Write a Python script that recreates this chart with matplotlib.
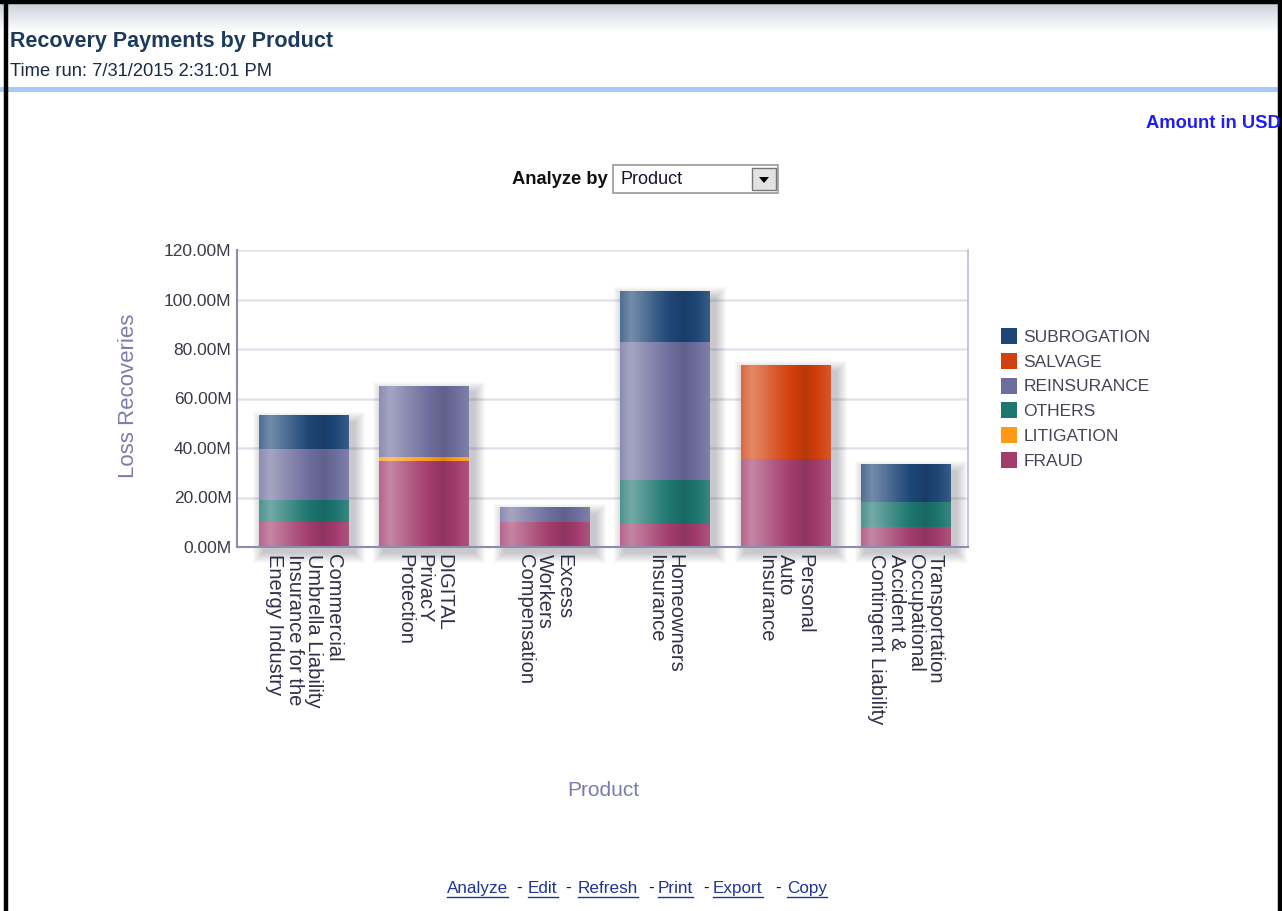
import numpy as np
import matplotlib
matplotlib.use("Agg")
import matplotlib.pyplot as plt
from matplotlib import font_manager
from matplotlib.patches import Rectangle, Polygon
from matplotlib.lines import Line2D
from matplotlib.ticker import FuncFormatter
from matplotlib.colors import to_rgb

### data (values in millions USD) ###
products = ["Commercial\nUmbrella Liability\nInsurance for the\nEnergy Industry",
            "DIGITAL\nPrivacY\nProtection",
            "Excess\nWorkers\nCompensation",
            "Homeowners\nInsurance",
            "Personal\nAuto\nInsurance",
            "Transportation\nOccupational\nAccident &\nContingent Liability"]
fraud = [10.1, 34.7, 10.1, 9.4, 35.5, 7.9]
litigation = [0, 1.6, 0, 0, 0, 0]
others = [9.0, 0, 0, 17.5, 0, 10.4]
reinsurance = [20.3, 28.6, 5.8, 56.1, 0, 0]
salvage = [0, 0, 0, 0, 37.9, 0]
subrogation = [13.5, 0, 0, 20.6, 0, 15.0]

series_names = ["FRAUD", "LITIGATION", "OTHERS", "REINSURANCE", "SALVAGE", "SUBROGATION"]
series_vals = [fraud, litigation, others, reinsurance, salvage, subrogation]
series_cols = ["#a23c6c", "#ff9a14", "#1d7670", "#6e6e9e", "#d2400c", "#1e4676"]

plt.rcParams['font.family'] = ['Liberation Sans', 'DejaVu Sans']
names = {f.name for f in font_manager.fontManager.ttflist}
if 'Liberation Sans Narrow' in names:
    ytick_font, ytick_size = 'Liberation Sans Narrow', 15
else:
    ytick_font, ytick_size = 'Liberation Sans', 12.5

W, H = 1282, 911
fig = plt.figure(figsize=(W / 100, H / 100), dpi=100)
fig.patch.set_facecolor("white")

def fx(px):
    return px / W

def fy(py):
    return 1 - py / H

# header band
hdr = fig.add_axes([0, fy(32), 1, fy(3) - fy(32)])
grad = np.linspace(0, 1, 50)[:, None]
hdr.imshow(np.dstack([0.80 + 0.20 * grad, 0.82 + 0.18 * grad, 0.85 + 0.15 * grad]),
           aspect='auto', extent=(0, 1, 0, 1), origin='upper')
hdr.axis('off')

fig.text(fx(10), fy(41), "Recovery Payments by Product", fontsize=15.5, fontweight='bold',
         color='#1c3a5c', ha='left', va='center')
fig.text(fx(10), fy(71), "Time run: 7/31/2015 2:31:01 PM", fontsize=13.2,
         color='#1c2a44', ha='left', va='center')
fig.add_artist(Rectangle((0, fy(92)), 1, fy(87) - fy(92), transform=fig.transFigure,
                         facecolor='#a3ccf7', edgecolor='none'))
fig.text(fx(1281), fy(124), "Amount in USD", fontsize=13.2, fontweight='bold',
         color='#1e1ef0', ha='right', va='center')

# analyze by selector
fig.text(fx(608), fy(179), "Analyze by", fontsize=13.2, fontweight='bold',
         color='#111111', ha='right', va='center')
fig.add_artist(Rectangle((fx(613), fy(193)), fx(778) - fx(613), fy(165) - fy(193),
                         transform=fig.transFigure, facecolor='white', edgecolor='#9a9a9a', lw=1.2))
fig.add_artist(Rectangle((fx(752), fy(190)), fx(776) - fx(752), fy(168) - fy(190),
                         transform=fig.transFigure, facecolor='#e2e2e2', edgecolor='#777777', lw=1.0))
fig.add_artist(Polygon([(fx(759), fy(177)), (fx(769), fy(177)), (fx(764), fy(183))],
                       closed=True, transform=fig.transFigure, facecolor='black', edgecolor='none'))
fig.text(fx(620), fy(179), "Product", fontsize=13, color='#141432', ha='left', va='center')

# chart
ax = fig.add_axes([fx(237), fy(547), fx(968) - fx(237), fy(250) - fy(547)])
x = np.arange(len(products))
width = 0.747
pxx = 6.07 / 731.0
pxy = 120.0 / 297.0
totals = np.sum(np.array(series_vals), axis=0)

# soft drop shadow
for s in range(1, 12):
    ax.bar(x + 5 * pxx, totals + 2 * s * pxy - 2 * pxy, bottom=-5 * pxy - s * pxy,
           width=width + 2 * s * pxx, color='#2a2a3a', alpha=0.022, zorder=1,
           linewidth=0, clip_on=False)

# shading profile across each bar
t = np.linspace(0, 1, 80)
prof = np.interp(t, [0, 0.12, 0.45, 0.72, 1.0], [0.22, 0.38, 0.08, -0.12, 0.12])

def shade(col):
    c = np.array(to_rgb(col))
    f = prof[:, None]
    out = np.where(f > 0, c + (1 - c) * f, c * (1 + f))
    return np.clip(out, 0, 1)[None, :, :]

bottom = np.zeros(len(products))
for name, vals, col in zip(series_names, series_vals, series_cols):
    vals = np.array(vals)
    bars = ax.bar(x, vals, bottom=bottom, width=width, color=col, zorder=2, linewidth=0)
    img = shade(col)
    for p in bars:
        if p.get_height() > 0:
            ax.imshow(img, extent=(p.get_x(), p.get_x() + p.get_width(),
                                   p.get_y(), p.get_y() + p.get_height()),
                      aspect='auto', interpolation='bilinear', zorder=2.2)
    bottom = bottom + vals

ax.set_xlim(-0.555, 5.515)
ax.set_ylim(0, 120)
ax.set_yticks(np.arange(0, 121, 20))
ax.yaxis.set_major_formatter(FuncFormatter(lambda v, p: f"{v:.2f}M"))
ax.grid(axis='y', color='#e2e2ec', lw=1.8)
ax.set_axisbelow(True)
ax.spines['top'].set_visible(False)
ax.spines['left'].set_color('#8c8cae')
ax.spines['left'].set_linewidth(1.5)
ax.spines['bottom'].set_color('#8c8cae')
ax.spines['bottom'].set_linewidth(1.5)
ax.spines['right'].set_color('#bcbcd4')
ax.spines['right'].set_linewidth(1.2)
ax.tick_params(axis='both', length=0)
ax.tick_params(axis='y', pad=4)
ax.tick_params(axis='x', pad=5)
for lab in ax.get_yticklabels():
    lab.set_fontfamily(ytick_font)
    lab.set_fontsize(ytick_size)
    lab.set_color('#3a3a48')
ax.set_xticks(x)
ax.set_xticklabels(products, rotation=270, ha='left', va='center', rotation_mode='anchor',
                   fontsize=14.5, color='#30304a', linespacing=1.03)

fig.text(fx(128), fy(396), "Loss Recoveries", rotation=90, fontsize=16, color='#7c7caa',
         ha='center', va='center')
fig.text(fx(603), fy(791), "Product", fontsize=15, color='#7c7caa', ha='center', va='center')

# legend
handles = [Rectangle((0, 0), 1, 1, facecolor=c, edgecolor='none') for c in series_cols[::-1]]
fig.legend(handles, series_names[::-1], loc='upper left', bbox_to_anchor=(fx(994), fy(321)),
           frameon=False, fontsize=12.5, handlelength=0.95, handleheight=1.05,
           handletextpad=0.35, labelspacing=0.45, borderaxespad=0, labelcolor='#444456')

# footer links
links = [("Analyze", 447), ("Edit", 528), ("Refresh", 578), ("Print", 658), ("Export", 713), ("Copy", 787)]
dashes = [516, 565, 648, 703, 775]
renderer = fig.canvas.get_renderer()
for word, px in links:
    tx = fig.text(fx(px), fy(893), word, fontsize=12.3, color='#1f3596', ha='left', va='baseline')
    bb = tx.get_window_extent(renderer)
    fig.add_artist(Line2D([bb.x0 / W, bb.x1 / W], [fy(896.5), fy(896.5)], transform=fig.transFigure,
                          color='#1f3596', lw=1.0))
for px in dashes:
    fig.text(fx(px), fy(893), "-", fontsize=12.3, color='#111111', ha='left', va='baseline')

# page frame
for xs, ys in [([fx(6), fx(6)], [0, 1]), ([0, 1], [fy(2), fy(2)]), ([fx(1280), fx(1280)], [0, 1])]:
    fig.add_artist(Line2D(xs, ys, transform=fig.transFigure, color='black', lw=3.2))

fig.savefig("out.png", dpi=100)
